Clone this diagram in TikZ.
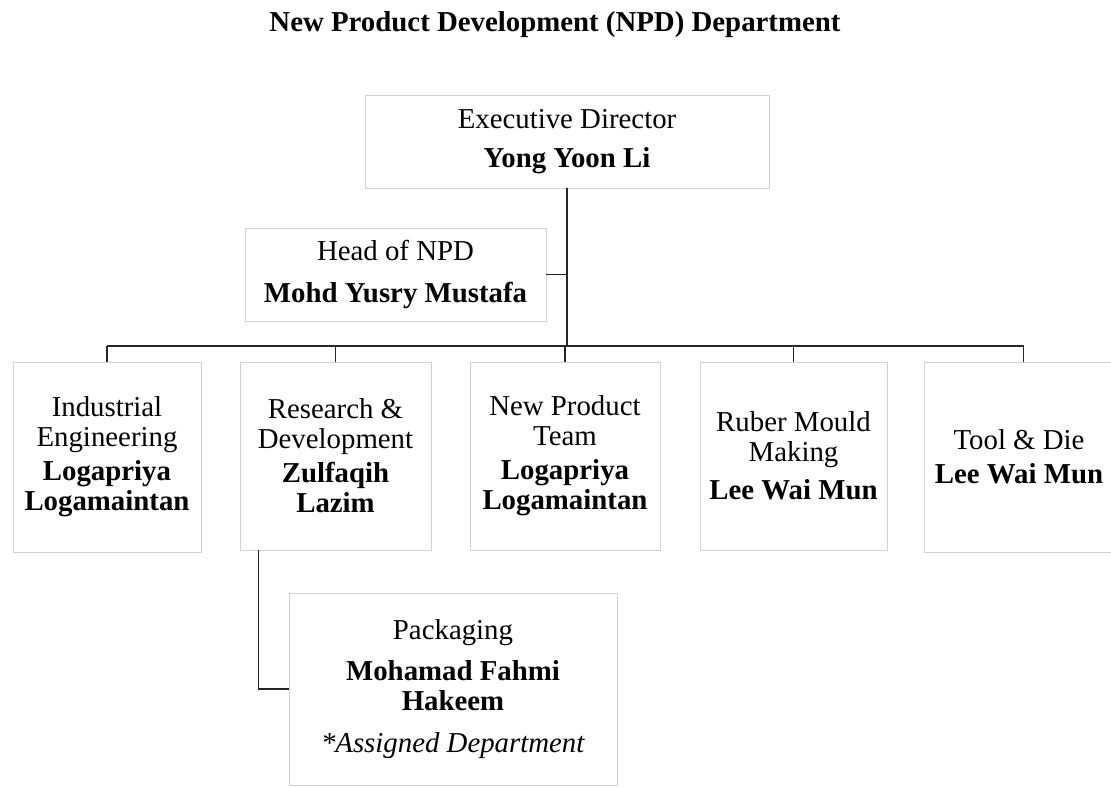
\documentclass[tikz,border=0pt]{standalone}
\usepackage{fontspec}
\setmainfont{Liberation Serif}
\begin{document}
\begin{tikzpicture}[x=0.025cm, y=-0.025cm,
		unit/.style={draw=black!18, line width=0.6pt, fill=white, align=center, inner sep=0pt, font=\fontsize{20.5}{21.3}\selectfont},
		link/.style={draw=black!85, line width=1.1pt}]
			\useasboundingbox (0,0) rectangle (1111,788);
			\node[font=\fontsize{20.5}{21.3}\selectfont\bfseries] (title) at (555, 25) {New Product Development (NPD) Department};
			
			\node[unit, minimum width=10.1cm, minimum height=2.325cm] (exec) at (567, 141.5) {Executive Director\\[6pt]\textbf{Yong Yoon Li}};
			\node[unit, minimum width=7.525cm, minimum height=2.325cm] (head) at (395.5, 274.5) {Head of NPD\\[8.5pt]\textbf{Mohd Yusry Mustafa}};
			\coordinate (bar) at (567, 346);
			
			\node[unit, minimum width=4.7cm, minimum height=4.75cm] (ie) at (107, 457) {Industrial\\Engineering\\[3pt]\textbf{Logapriya}\\\textbf{Logamaintan}};
			\node[unit, minimum width=4.775cm, minimum height=4.7cm] (rd) at (335.5, 456) {Research \&\\Development\\[3pt]\textbf{Zulfaqih}\\\textbf{Lazim}};
			\node[unit, minimum width=4.75cm, minimum height=4.7cm] (np) at (565, 456) {New Product\\Team\\[3pt]\textbf{Logapriya}\\\textbf{Logamaintan}};
			\node[unit, minimum width=4.675cm, minimum height=4.7cm] (rm) at (793.5, 456) {Ruber Mould\\Making\\[5.5pt]\textbf{Lee Wai Mun}};
			\node[unit, minimum width=4.75cm, minimum height=4.75cm] (td) at (1019, 457) {Tool \& Die\\[3pt]\textbf{Lee Wai Mun}};
			
			\node[unit, minimum width=8.2cm, minimum height=4.8cm] (pack) at (453, 689) {Packaging\\[8pt]\textbf{Mohamad Fahmi}\\\textbf{Hakeem}\\[8.5pt]\textit{*Assigned Department}};
			
			\draw[link] (exec.south) -- (bar);
			\draw[link] (head.east) -- (head.east -| bar);
			\draw[link] (ie.north |- bar) -- ([xshift=3.25pt]td.north |- bar);
			\foreach \u in {ie, rd, np, rm} {
				\draw[link] (\u.north |- bar) -- (\u.north);
			}
			\draw[link] ([xshift=3.25pt]td.north |- bar) -- ([xshift=3.25pt]td.north);
			\draw[link] ([xshift=0.475cm]rd.south west) |- (pack.west);
			
		\end{tikzpicture}
\end{document}
